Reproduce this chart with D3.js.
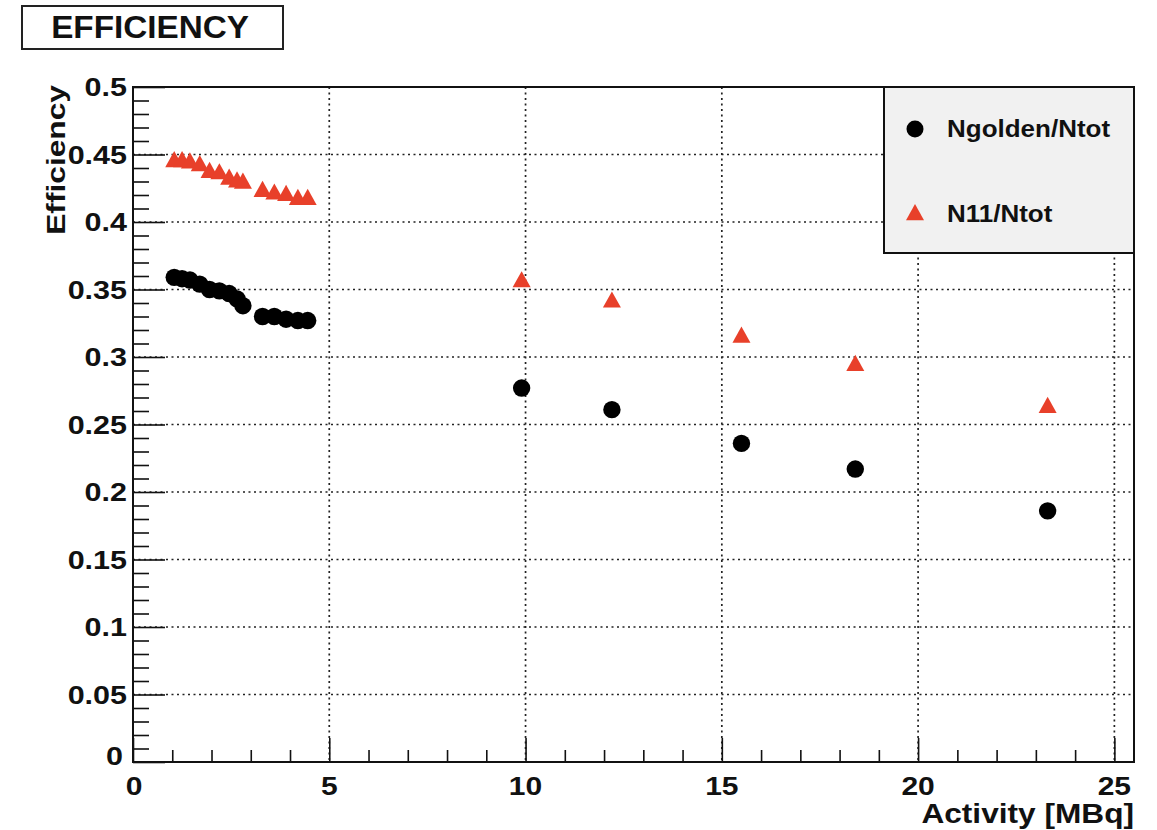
<!DOCTYPE html>
<html>
<head>
<meta charset="utf-8">
<script src="https://cdn.jsdelivr.net/npm/d3@7"></script>
<style>
  html, body { margin: 0; padding: 0; background: #fff; }
  svg text { font-family: "Liberation Sans", Arial, Helvetica, sans-serif; font-weight: bold; fill: #111; }
</style>
</head>
<body>
<svg id="chart" width="1157" height="830"></svg>
<script>
// Activity of each run [MBq]
const activity = [1.05, 1.25, 1.45, 1.7, 1.95, 2.2, 2.45, 2.65, 2.8, 3.3, 3.6, 3.9, 4.2, 4.45,
                  9.9, 12.2, 15.5, 18.4, 23.3];
// Ngolden/Ntot efficiency per run
const goldenEff = [0.359, 0.358, 0.357, 0.354, 0.350, 0.349, 0.347, 0.343, 0.338, 0.330, 0.330, 0.328, 0.327, 0.327,
                   0.277, 0.261, 0.236, 0.217, 0.186];
// N11/Ntot efficiency per run
const n11Eff = [0.446, 0.446, 0.445, 0.443, 0.438, 0.437, 0.433, 0.431, 0.430, 0.424, 0.422, 0.421, 0.418, 0.418,
                0.357, 0.342, 0.316, 0.295, 0.264];

const seriesNames = ["Ngolden/Ntot", "N11/Ntot"];
const xTicks = [0, 5, 10, 15, 20, 25];
const yTicks = [0, 0.05, 0.1, 0.15, 0.2, 0.25, 0.3, 0.35, 0.4, 0.45, 0.5];

const svg = d3.select("#chart");
const frame = { left: 133, right: 1134, top: 87, bottom: 762 };
const red = "#e8402a";

const x = d3.scaleLinear().domain([0, 25.5]).range([frame.left, frame.right]);
const y = d3.scaleLinear().domain([0, 0.5]).range([frame.bottom, frame.top]);

// wide bold text: glyphs are stretched horizontally by sx
function wideText(parent, px, py, str, size, sx, anchor, rotate) {
  return parent.append("text")
    .attr("transform", `translate(${px},${py})${rotate ? " rotate(-90)" : ""} scale(${sx},1)`)
    .attr("text-anchor", anchor || "start")
    .attr("font-size", size)
    .text(str);
}

// dotted grid at major ticks
const grid = svg.append("g").attr("stroke", "#222").attr("stroke-width", 1.7)
  .attr("stroke-dasharray", "2,3.5");
grid.selectAll("line.gx").data(xTicks.filter(d => d > 0)).join("line")
  .attr("x1", d => x(d)).attr("x2", d => x(d))
  .attr("y1", frame.top).attr("y2", frame.bottom);
grid.selectAll("line.gy").data(yTicks.filter(d => d > 0 && d < 0.5)).join("line")
  .attr("x1", frame.left).attr("x2", frame.right)
  .attr("y1", d => y(d)).attr("y2", d => y(d));

// ticks drawn inside the frame
const xAxis = d3.axisTop(x).tickValues(d3.range(0, 26, 1)).tickFormat("")
  .tickSize(12).tickSizeOuter(0);
const gx = svg.append("g").attr("transform", `translate(0,${frame.bottom})`).call(xAxis);
gx.selectAll(".tick line").attr("stroke", "#111").attr("stroke-width", 1.6)
  .attr("y2", d => (d % 5 === 0 ? -24 : -12));
gx.select(".domain").remove();

const yAxis = d3.axisRight(y).tickValues(d3.range(0, 51, 1).map(d => d / 100)).tickFormat("")
  .tickSize(16).tickSizeOuter(0);
const gy = svg.append("g").attr("transform", `translate(${frame.left},0)`).call(yAxis);
gy.selectAll(".tick line").attr("stroke", "#111").attr("stroke-width", 1.6)
  .attr("x2", d => (Math.round(d * 100) % 5 === 0 ? 32 : 16));
gy.select(".domain").remove();

// tick labels
const xl = svg.append("g");
xTicks.forEach(d => wideText(xl, x(d) + (d === 0 ? 1 : 0), 795, String(d), 25, 1.2, "middle"));
const yl = svg.append("g");
yTicks.forEach(d => wideText(yl, d === 0 ? 123 : 127, y(d) + (d === 0 ? 3 : 9),
  d === 0 ? "0" : d3.format("~g")(d), 25, 1.22, "end"));

// frame
svg.append("rect").attr("x", frame.left).attr("y", frame.top)
  .attr("width", frame.right - frame.left).attr("height", frame.bottom - frame.top)
  .attr("fill", "none").attr("stroke", "#111").attr("stroke-width", 2);

// axis titles
wideText(svg, frame.right, 823, "Activity [MBq]", 28, 1.13, "end");
wideText(svg, 65, frame.top - 2, "Efficiency", 26, 1.22, "end", true);

// markers
const triType = {
  draw(ctx, size) {
    const w = Math.sqrt(size), h = w * 0.9;
    ctx.moveTo(0, -h * 0.55);
    ctx.lineTo(w / 2, h * 0.45);
    ctx.lineTo(-w / 2, h * 0.45);
    ctx.closePath();
  }
};
const triangle = d3.symbol().type(triType).size(18 * 18);
const points = d3.range(activity.length);
svg.append("g").selectAll("path").data(points).join("path")
  .attr("d", triangle)
  .attr("transform", i => `translate(${x(activity[i])},${y(n11Eff[i])})`)
  .attr("fill", red);
svg.append("g").selectAll("circle").data(points).join("circle")
  .attr("cx", i => x(activity[i])).attr("cy", i => y(goldenEff[i]))
  .attr("r", 8.7).attr("fill", "#000");

// legend
const lg = svg.append("g");
lg.append("rect").attr("x", 884).attr("y", frame.top).attr("width", frame.right - 884).attr("height", 166)
  .attr("fill", "#f1f1f1").attr("stroke", "#111").attr("stroke-width", 2);
lg.append("circle").attr("cx", 915).attr("cy", 129).attr("r", 8.5).attr("fill", "#000");
lg.append("path").attr("d", triangle).attr("transform", "translate(915,213)").attr("fill", red);
wideText(lg, 947, 137, seriesNames[0], 23, 1.13);
wideText(lg, 947, 222, seriesNames[1], 23, 1.13);

// title box
svg.append("rect").attr("x", 22).attr("y", 6).attr("width", 261).attr("height", 43)
  .attr("fill", "#fff").attr("stroke", "#222").attr("stroke-width", 2);
wideText(svg, 150, 38, "EFFICIENCY", 32, 1.04, "middle");
</script>
</body>
</html>
